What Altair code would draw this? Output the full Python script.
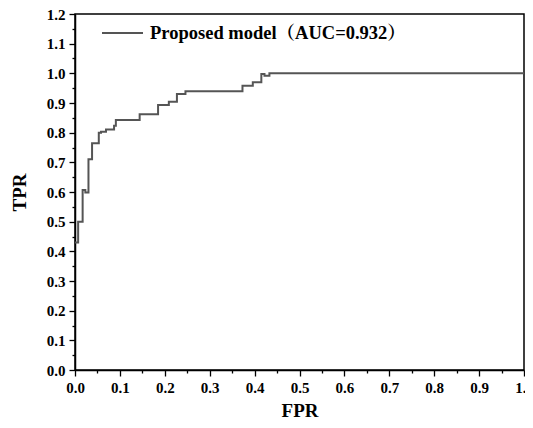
import altair as alt
import pandas as pd

fpr = [0.0, 0.007, 0.017, 0.023, 0.030, 0.038, 0.053, 0.058, 0.069, 0.087, 0.091,
       0.144, 0.185, 0.209, 0.227, 0.246, 0.373, 0.396, 0.415, 0.422, 0.433, 1.0]
tpr = [0.43, 0.50, 0.607, 0.598, 0.71, 0.764, 0.80, 0.803, 0.811, 0.823, 0.843,
       0.862, 0.893, 0.904, 0.930, 0.940, 0.958, 0.970, 0.998, 0.992, 1.0, 1.0]
x_ticks = [round(i * 0.05, 2) for i in range(21)]
y_ticks = [round(i * 0.05, 2) for i in range(25)]
legend_label = ["Proposed model（AUC=0.932）"]

df = pd.DataFrame({"FPR": fpr, "TPR": tpr})

FONT = "Liberation Serif"
minor_test = "round(datum.value*100) % 10 != 0"
label_expr = "round(datum.value*100) % 10 == 0 ? format(datum.value, '.1f') : ''"

x_axis = alt.Axis(
    values=x_ticks, labelExpr=label_expr, grid=False,
    tickSize={"condition": {"test": minor_test, "value": 3}, "value": 6},
    title="FPR", titleFontSize=19, titleFont=FONT, titleFontWeight="bold",
    titlePadding=6, labelFont=FONT, labelFontSize=15, labelFontWeight="bold",
    labelPadding=4, labelColor="black", titleColor="black",
    domainColor="black", domainWidth=1.5, tickColor="black", tickWidth=1.3,
    labelFlush=False, labelOverlap=False,
)
y_axis = alt.Axis(
    values=y_ticks, labelExpr=label_expr, grid=False,
    tickSize={"condition": {"test": minor_test, "value": 3}, "value": 6},
    title="TPR", titleFontSize=19, titleFont=FONT, titleFontWeight="bold",
    titlePadding=17, labelFont=FONT, labelFontSize=15, labelFontWeight="bold",
    labelPadding=4, labelColor="black", titleColor="black",
    domainColor="black", domainWidth=1.5, tickColor="black", tickWidth=1.3,
    labelFlush=False, labelOverlap=False,
)

line = alt.Chart(df).mark_line(
    interpolate="step-after", color="#555555", strokeWidth=2
).encode(
    x=alt.X("FPR:Q", scale=alt.Scale(domain=[0, 1], nice=False), axis=x_axis),
    y=alt.Y("TPR:Q", scale=alt.Scale(domain=[0, 1.2], nice=False), axis=y_axis),
)

leg_df = pd.DataFrame({"label": legend_label})
leg_line = alt.Chart(leg_df).mark_rule(color="#555555", strokeWidth=2).encode(
    x=alt.value(27), x2=alt.value(68), y=alt.value(19)
)
leg_text = alt.Chart(leg_df).mark_text(
    align="left", baseline="middle",
    font="Liberation Serif, 'Noto Serif CJK SC', 'Noto Sans CJK SC'",
    fontSize=18.5, fontWeight="bold", color="black"
).encode(x=alt.value(75), y=alt.value(19), text="label:N")

chart = alt.layer(line, leg_line, leg_text).properties(
    width=449, height=356,
    autosize=alt.AutoSizeParams(type="none"),
    padding={"left": 67, "top": 6, "right": 1, "bottom": 50},
).configure_view(stroke="black", strokeWidth=1.5)

chart.save("out.html", embed_options={"renderer": "svg", "actions": False})
